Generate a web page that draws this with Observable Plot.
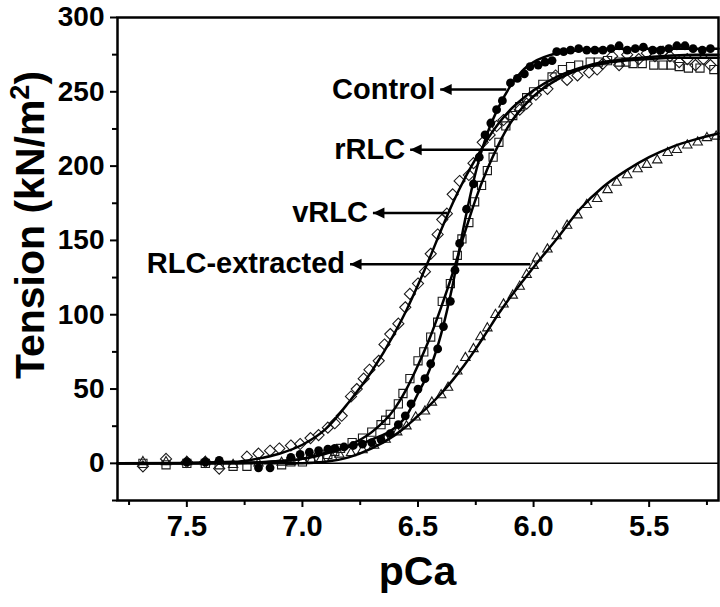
<!DOCTYPE html>
<html>
<head>
<meta charset="utf-8">
<script src="https://cdn.jsdelivr.net/npm/d3@7"></script>
<script src="https://cdn.jsdelivr.net/npm/@observablehq/plot@0.6"></script>
<style>
  html, body { margin: 0; padding: 0; background: #fff; }
  #chart svg text { font-weight: bold; }
</style>
</head>
<body>
<div id="chart"></div>
<script>
// ---- Data (pCa, tension kN/m^2) ----
const control = [[7.50,1],[7.42,1],[7.36,2],[7.19,-3],[7.14,-3],[7.05,4],[7.01,6],[6.97,7.5],[6.93,8.5],[6.89,9.5],
  [6.86,10],[6.82,11],[6.78,12],[6.74,13],[6.70,14],[6.66,16],[6.62,20],[6.585,26],[6.555,32],[6.53,40],
  [6.50,50],[6.47,57],[6.445,67],[6.415,77],[6.39,92],[6.36,109],[6.34,130],[6.32,148],[6.29,171],[6.26,188],
  [6.235,206],[6.21,221],[6.185,229],[6.16,238],[6.135,244],[6.10,256],[6.07,259],[6.04,262],[6.015,267],[5.98,268],
  [5.95,270],[5.92,271],[5.90,277],[5.87,277],[5.84,278],[5.805,279],[5.77,278],[5.735,278],[5.70,278],[5.665,279],
  [5.63,281],[5.595,278],[5.56,279],[5.525,280],[5.485,278],[5.45,278],[5.415,279],[5.38,281],[5.345,281],[5.31,279],
  [5.27,278],[5.235,279]];

const rRLC = [[7.69,0],[7.59,-1],[7.50,0],[7.42,0],[7.36,-1],[7.30,-2],[7.24,-2],[7.09,-1],[7.05,1],[7.00,1],
  [6.965,3],[6.93,4],[6.89,6],[6.86,8],[6.835,10],[6.785,14],[6.74,17],[6.70,21],[6.66,26],[6.64,29],
  [6.62,33],[6.585,40],[6.565,47],[6.535,57],[6.50,69],[6.475,75],[6.445,85],[6.415,95],[6.395,109],[6.36,121],
  [6.33,140],[6.31,151],[6.28,162],[6.255,176],[6.225,187],[6.20,197],[6.175,206],[6.15,216],[6.12,227],[6.09,234],
  [6.06,240],[6.03,246],[6.00,250],[5.96,255],[5.92,260],[5.875,265],[5.84,267],[5.805,268],[5.755,270],[5.72,270],
  [5.68,271],[5.63,270],[5.60,270],[5.57,269],[5.53,269],[5.48,268],[5.44,268],[5.405,268],[5.37,267],[5.33,266],
  [5.28,266],[5.22,265]];

const vRLC = [[7.69,-2],[7.59,3],[7.50,1],[7.42,1],[7.36,-3.5],[7.24,4.5],[7.19,6.5],[7.14,8.5],[7.10,10],[7.05,12],
  [7.01,13],[6.965,17],[6.93,19],[6.89,24],[6.86,27],[6.83,32],[6.79,45],[6.765,50],[6.735,57],[6.71,63],
  [6.67,69],[6.645,80],[6.62,87],[6.585,94],[6.555,105],[6.535,114],[6.50,121],[6.47,129],[6.445,141],[6.415,154],
  [6.395,164],[6.375,168],[6.35,181],[6.32,190],[6.28,194],[6.26,202],[6.22,216],[6.19,221],[6.16,227],[6.13,231],
  [6.10,233],[6.06,238],[6.03,242],[5.99,248],[5.94,252],[5.905,261],[5.855,258],[5.81,261],[5.76,263],[5.725,265],
  [5.70,269],[5.66,274],[5.63,268],[5.595,275],[5.545,272],[5.51,276],[5.475,274],[5.44,277],[5.41,274],[5.37,270],
  [5.335,272],[5.30,268],[5.265,272],[5.235,268]];

const extracted = [[7.69,1],[7.59,1],[7.50,1],[7.42,1],[7.30,-1],[7.19,0],[7.09,0.5],[7.05,1],[7.00,2],[6.96,2.5],
  [6.92,3],[6.87,4],[6.84,6],[6.79,7],[6.74,9],[6.69,12],[6.64,16],[6.59,21],[6.55,25],[6.51,31],
  [6.47,35],[6.44,41],[6.40,46],[6.37,51],[6.33,62],[6.295,71],[6.26,77],[6.23,85],[6.20,91],[6.165,100],
  [6.13,107],[6.09,113],[6.06,119],[6.03,127],[6.00,133],[5.985,138],[5.94,144],[5.90,153],[5.855,160],[5.81,167],
  [5.77,174],[5.725,178],[5.68,184],[5.64,189],[5.595,194],[5.55,198],[5.51,201],[5.465,204],[5.42,209],[5.38,211],
  [5.335,214],[5.29,216],[5.25,219],[5.21,220]];

// fitted curves
const fitPCa       = [7.8,7.5,7.3,7.2,7.1,7.0,6.9,6.8,6.7,6.6,6.55,6.5,6.45,6.4,6.35,6.3,6.25,6.2,6.15,6.1,6.05,6.0,5.9,5.8,5.7,5.6,5.5,5.4,5.3,5.2];
const fitControl   = [0,0,0.2,0.5,1.5,3,7,11,16,24,32,47,63,87,120,161,196,222,240,254,264,270,276,278,279,279,279,279,279,279];
const fitRRLC      = [0,0,0.2,0.5,1.5,3,6.5,12,21,37,50,66,84,105,128,154,178,198,215,229,239,247,258,265,269,271,272,273,273,273];
const fitVRLC      = [0,0.3,1,3,6.5,12.5,23,41,62,88,103,120,138,157,175,191,205,218,229,238,245,251,260,266,270,272,273.5,274.5,275,275];
const fitExtracted = [0,0,0,0,0,0,1,4,10,19,25,32,39,47,56,66,77,89,101,112,122,132,151,171,186,197,206,213,218,222];

// annotations: label, tension level, arrow tip pCa, arrow tail pCa
const annoLabels  = ["Control","rRLC","vRLC","RLC-extracted"];
const annoTension = [251.5, 211, 168.5, 134];
const annoTipPCa  = [6.404, 6.534, 6.695, 6.794];
const annoEndPCa  = [6.118, 6.170, 6.374, 6.014];

// axis ticks
const xMajorTicks = [7.5, 7.0, 6.5, 6.0, 5.5];
const xMinorTicks = [7.75, 7.25, 6.75, 6.25, 5.75, 5.25];
const yMajorTicks = [0, 50, 100, 150, 200, 250, 300];
const yMinorTicks = [-25, 25, 75, 125, 175, 225, 275];

// ---- build ----
const fitRows = [];
[["Control", fitControl], ["rRLC", fitRRLC], ["vRLC", fitVRLC], ["RLC-extracted", fitExtracted]].forEach(([name, vals]) => {
  fitPCa.forEach((p, i) => fitRows.push({series: name, pCa: p, T: vals[i]}));
});
const annoRows = annoLabels.map((l, i) => ({label: l, T: annoTension[i], tip: annoTipPCa[i], end: annoEndPCa[i]}));

const leftHead = {
  draw(ctx, size) {
    const s = Math.sqrt(size);
    const L = s * 1.3, w = s * 0.62;
    ctx.moveTo(0, 0);
    ctx.lineTo(L, -w);
    ctx.lineTo(L, w);
    ctx.closePath();
  }
};

const FONT = "'Liberation Sans', Arial, Helvetica, sans-serif";
const W = 720, H = 607, ML = 117, MR = 2, MT = 17, MB = 107;

const px = d => d[0], py = d => d[1];

const chart = Plot.plot({
  width: W, height: H,
  marginLeft: ML, marginRight: MR, marginTop: MT, marginBottom: MB,
  style: {fontFamily: FONT, background: "white", color: "black", overflow: "visible"},
  x: {domain: [7.8, 5.2]},
  y: {domain: [-25, 300]},
  marks: [
    Plot.ruleY([0], {stroke: "black", strokeWidth: 1.5}),
    Plot.dot(extracted, {x: px, y: py, symbol: "triangle2", r: 4.5, stroke: "#1a1a1a", strokeWidth: 1.1, fill: "none"}),
    Plot.dot(vRLC, {x: px, y: py, symbol: "diamond2", r: 5, stroke: "#1a1a1a", strokeWidth: 1.1, fill: "none"}),
    Plot.dot(rRLC, {x: px, y: py, symbol: "square2", r: 5.2, stroke: "#1a1a1a", strokeWidth: 1.1, fill: "none"}),
    Plot.dot(control, {x: px, y: py, symbol: "circle", r: 4.4, fill: "black"}),
    Plot.line(fitRows, {x: "pCa", y: "T", z: "series", curve: "monotone-x", stroke: "black", strokeWidth: 2.5}),
    Plot.link(annoRows, {x1: "tip", x2: "end", y1: "T", y2: "T", stroke: "black", strokeWidth: 2.5}),
    Plot.dot(annoRows, {x: "tip", y: "T", symbol: leftHead, r: 5, fill: "black"}),
    Plot.text(annoRows, {x: "tip", y: "T", text: "label", textAnchor: "end", dx: -5, fontSize: 29, fontWeight: "bold", fill: "black"}),
    Plot.frame({stroke: "black", strokeWidth: 2.5}),
    Plot.axisX(xMajorTicks, {tickSize: 7, tickPadding: 8, tickFormat: d3.format(".1f"), fontSize: 29, fontWeight: "bold", strokeWidth: 2, label: null}),
    Plot.axisX(xMinorTicks, {tickSize: 5, tickFormat: () => "", strokeWidth: 2, label: null}),
    Plot.axisY(yMajorTicks, {tickSize: 7, tickPadding: 6, fontSize: 28, fontWeight: "bold", strokeWidth: 2, label: null}),
    Plot.axisY(yMinorTicks, {tickSize: 5, tickFormat: () => "", strokeWidth: 2, label: null})
  ]
});

const svg = d3.select(chart);
// x axis title
svg.append("text")
  .attr("x", ML + (W - ML - MR) / 2)
  .attr("y", 585)
  .attr("text-anchor", "middle")
  .attr("fill", "black")
  .style("font-family", FONT)
  .style("font-weight", "bold")
  .style("font-size", "41px")
  .text("pCa");
// y axis title with superscript
const yt = svg.append("text")
  .attr("transform", "translate(44,225) rotate(-90)")
  .attr("text-anchor", "middle")
  .attr("fill", "black")
  .style("font-family", FONT)
  .style("font-weight", "bold")
  .style("font-size", "41px");
yt.append("tspan").text("Tension (kN/m");
yt.append("tspan").attr("dy", -15).style("font-size", "27px").text("2");
yt.append("tspan").attr("dy", 15).text(")");

document.getElementById("chart").appendChild(chart);
</script>
</body>
</html>
